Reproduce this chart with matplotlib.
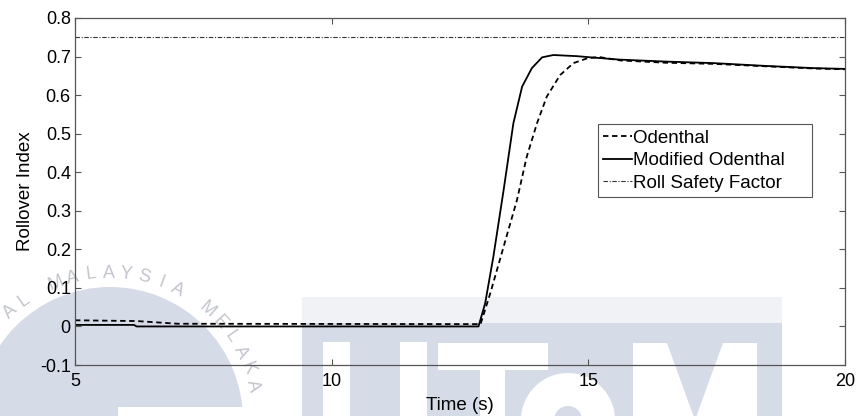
import numpy as np
import matplotlib
matplotlib.use("Agg")
import matplotlib.pyplot as plt
from matplotlib.patches import Circle, Rectangle, Polygon, Wedge

plt.rcParams['font.family'] = ['Liberation Sans', 'DejaVu Sans']

# Modified Odenthal rollover index
t_mod = [5, 6.15, 6.2, 12.86, 12.99, 13.15, 13.35, 13.54, 13.71, 13.90,
         14.10, 14.32, 14.78, 15.04, 15.62, 16.5, 17.44, 18.41, 19.39, 20]
v_mod = [0.004, 0.004, 0.0, 0.0, 0.060, 0.181, 0.354, 0.527, 0.622, 0.670,
         0.698, 0.704, 0.701, 0.698, 0.692, 0.687, 0.683, 0.676, 0.670, 0.668]

# Original Odenthal rollover index
t_oden = [5, 6.2, 7.0, 12.9, 13.09, 13.35, 13.61, 13.80, 14.0, 14.19,
          14.45, 14.71, 14.97, 15.2, 15.62, 16.5, 17.44, 18.41, 19.39, 20]
v_oden = [0.016, 0.014, 0.007, 0.006, 0.086, 0.207, 0.328, 0.440, 0.527, 0.596,
          0.652, 0.683, 0.695, 0.699, 0.690, 0.684, 0.681, 0.675, 0.669, 0.667]

roll_safety = 0.75

x_ticks = [5, 10, 15, 20]
y_ticks = [-0.1, 0, 0.1, 0.2, 0.3, 0.4, 0.5, 0.6, 0.7, 0.8]
y_tick_labels = ['-0.1', '0', '0.1', '0.2', '0.3', '0.4', '0.5', '0.6', '0.7', '0.8']

W, H = 857, 416
fig = plt.figure(figsize=(W / 100, H / 100), dpi=100)

# background watermark, drawn in pixel units on a full-figure axes
bg = fig.add_axes([0, 0, 1, 1], zorder=0)
bg.set_xlim(0, W)
bg.set_ylim(H, 0)
bg.axis('off')
wm_blue = '#d6dbe8'
bg.add_patch(Circle((110, 420), 133, color=wm_blue, lw=0))
bg.add_patch(Rectangle((118, 407), 140, 20, color='white', lw=0))
ring_text = "UNIVERSITI TEKNIKAL MALAYSIA MELAKA"
start = 111.6 + 7 * ring_text.index("MALAYSIA")
for i, ch in enumerate(ring_text):
    ang = start - 7 * i
    a = np.radians(ang)
    x, y = 110 + 147 * np.cos(a), 420 - 147 * np.sin(a)
    if x < 10 or y > 400:
        continue
    bg.text(x, y, ch, rotation=ang - 90, ha='center', va='center',
            fontsize=13, color='#c2c5cc')
bg.add_patch(Rectangle((302, 297), 480, 26, color='#f1f2f6', lw=0))
bg.add_patch(Rectangle((302, 323), 480, 100, color=wm_blue, lw=0))
# letters cut out in white
for x0, w in [(323, 27), (400, 27)]:
    bg.add_patch(Rectangle((x0, 342), w, 80, color='white', lw=0))
bg.add_patch(Rectangle((438, 343), 110, 27, color='white', lw=0))
bg.add_patch(Rectangle((480, 370), 25, 60, color='white', lw=0))
bg.add_patch(Wedge((568, 420), 47, 0, 360, width=33, color='white', lw=0))
bg.add_patch(Polygon([(633, 343), (667, 343), (695, 420), (723, 343), (757, 343),
                      (757, 420), (633, 420)], closed=True, color='white', lw=0))

ax = fig.add_axes([75 / W, 1 - 365 / H, 770 / W, 347 / H], zorder=1)
ax.patch.set_alpha(0)

ax.plot(t_oden, v_oden, color='black', lw=1.3, dashes=(3, 2), label='Odenthal')
ax.plot(t_mod, v_mod, color='black', lw=1.3, label='Modified Odenthal')
ax.axhline(roll_safety, color='#333333', lw=0.8, dashes=(4, 1.5, 1, 1.5),
           label='Roll Safety Factor')

ax.set_xlim(5, 20)
ax.set_ylim(-0.1, 0.8)
ax.set_xticks(x_ticks)
ax.set_yticks(y_ticks)
ax.set_yticklabels(y_tick_labels)
ax.tick_params(direction='in', top=True, right=True, length=4, width=0.8,
               labelsize=13, colors='#555555', labelcolor='black')
ax.tick_params(axis='x', pad=6)
ax.tick_params(axis='y', pad=3)
for s in ax.spines.values():
    s.set_color('#555555')
    s.set_linewidth(0.9)

ax.set_xlabel('Time (s)', fontsize=13.5, labelpad=5)
ax.set_ylabel('Rollover Index', fontsize=13.5, labelpad=4)

# trailing spaces widen the legend box on the right
handles, labels = ax.get_legend_handles_labels()
leg = ax.legend(handles, [lb + '    ' for lb in labels], loc='upper left',
                bbox_to_anchor=(0.679, 0.6945), fontsize=13.5,
                handlelength=1.5, handletextpad=0.1, borderpad=0.3,
                labelspacing=0.28, borderaxespad=0, fancybox=False,
                framealpha=1, edgecolor='#555555')
leg.get_frame().set_linewidth(0.8)

fig.savefig('out.png', dpi=100)
